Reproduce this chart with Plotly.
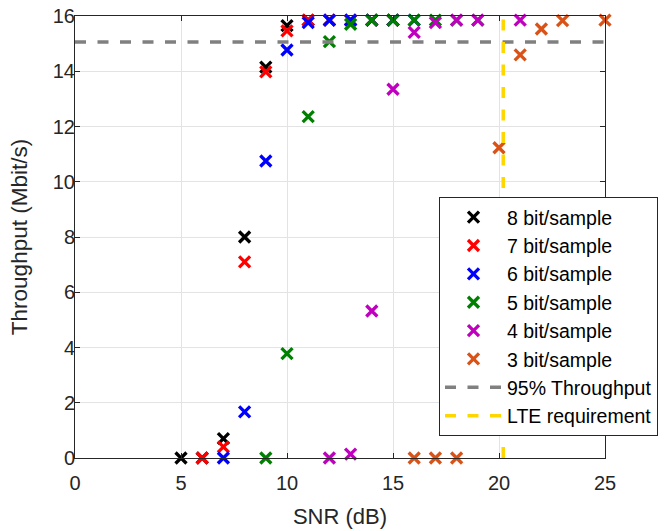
import plotly.graph_objects as go

# ---- data ----
snr_8 = [5, 6, 7, 8, 9, 10, 11, 12, 13, 14, 15]
thr_8 = [0.0, 0.0, 0.70, 8.00, 14.15, 15.65, 15.85, 15.85, 15.85, 15.85, 15.85]
snr_7 = [6, 7, 8, 9, 10, 11, 12, 13, 14, 15]
thr_7 = [0.0, 0.40, 7.10, 13.98, 15.46, 15.85, 15.85, 15.85, 15.85, 15.85]
snr_6 = [7, 8, 9, 10, 11, 12, 13, 14, 15, 16]
thr_6 = [0.0, 1.67, 10.75, 14.77, 15.76, 15.85, 15.85, 15.85, 15.85, 15.85]
snr_5 = [9, 10, 11, 12, 13, 14, 15, 16, 17, 18, 19]
thr_5 = [0.0, 3.78, 12.36, 15.07, 15.70, 15.85, 15.85, 15.85, 15.85, 15.85, 15.85]
snr_4 = [12, 13, 14, 15, 16, 17, 18, 19, 21]
thr_4 = [0.0, 0.14, 5.32, 13.35, 15.41, 15.76, 15.85, 15.85, 15.85]
snr_3 = [16, 17, 18, 20, 21, 22, 23, 25]
thr_3 = [0.0, 0.0, 0.0, 11.23, 14.59, 15.53, 15.83, 15.85]

series_names = ["8 bit/sample", "7 bit/sample", "6 bit/sample",
                "5 bit/sample", "4 bit/sample", "3 bit/sample"]
series_colors = ["#000000", "#ff0000", "#0000ff", "#008000", "#bf00bf", "#d95319"]

thr95 = 15.06
lte_snr = 20.2
x_range = [0, 25]
y_range = [0, 16]

FONT = "Liberation Sans, Arial, Helvetica"

fig = go.Figure()
for name, col, xs, ys in zip(series_names, series_colors,
                             [snr_8, snr_7, snr_6, snr_5, snr_4, snr_3],
                             [thr_8, thr_7, thr_6, thr_5, thr_4, thr_3]):
    fig.add_trace(go.Scatter(
        x=xs, y=ys, mode="markers", name=name,
        marker=dict(symbol="x-thin", size=11, color=col,
                    line=dict(color=col, width=3.3)),
        cliponaxis=False,
    ))

fig.add_trace(go.Scatter(
    x=x_range, y=[thr95, thr95], mode="lines", name="95% Throughput",
    line=dict(color="#808080", width=3.5, dash="11px,11.5px"),
))
fig.add_trace(go.Scatter(
    x=[lte_snr, lte_snr], y=y_range, mode="lines", name="LTE requirement",
    line=dict(color="#ffd700", width=3.5, dash="11px,11.5px"),
))

axis_common = dict(
    showline=True, linecolor="#262626", linewidth=1, mirror="ticks",
    ticks="inside", ticklen=5, tickcolor="#262626",
    showgrid=True, gridcolor="#e3e3e3", gridwidth=1,
    zeroline=False,
    tickfont=dict(family=FONT, size=20, color="#262626"),
)

fig.update_xaxes(range=x_range, dtick=5, tick0=0, ticklabelstandoff=7,
                 title=dict(text="SNR (dB)", standoff=15,
                            font=dict(family=FONT, size=22, color="#262626")),
                 **axis_common)
fig.update_yaxes(range=y_range, dtick=2, tick0=0, ticklabelstandoff=-5,
                 title=dict(text="Throughput (Mbit/s)", standoff=18,
                            font=dict(family=FONT, size=22.5, color="#262626")),
                 **axis_common)

fig.update_layout(
    width=664, height=531,
    margin=dict(l=75, r=59, t=16, b=73, autoexpand=False),
    plot_bgcolor="white", paper_bgcolor="white",
    showlegend=True,
    legend=dict(
        xref="container", yref="container",
        x=439 / 664, y=1 - 197 / 531, xanchor="left", yanchor="top",
        bgcolor="white", bordercolor="#262626", borderwidth=1,
        font=dict(family=FONT, size=19.5, color="#000000"),
        itemwidth=57,
    ),
)

fig.write_html("out.html")
